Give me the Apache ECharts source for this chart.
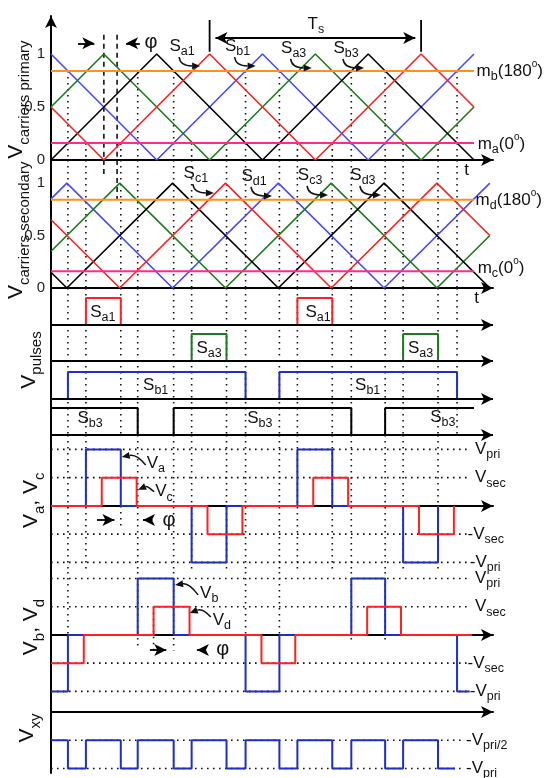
<!DOCTYPE html>
<html>
<head>
<meta charset="utf-8">
<script src="https://cdn.jsdelivr.net/npm/echarts@6/dist/echarts.min.js"></script>
<style>
html, body { margin: 0; padding: 0; background: #fff; }
#main { width: 549px; height: 778px; }
</style>
</head>
<body>
<div id="main"></div>
<script>
// ---- data (time in quarter carrier periods) ----
var priBlue  = [[0, 1], [2, 0], [4, 1], [6, 0], [8, 1]];
var priGreen = [[0, 0.5], [1, 1], [3, 0], [5, 1], [7, 0], [8, 0.5]];
var priBlack = [[0, 0], [2, 1], [4, 0], [6, 1], [8, 0]];
var priRed   = [[0, 0.5], [1, 0], [3, 1], [5, 0], [7, 1], [8, 0.5]];
var secBlue  = [[0, 0.85], [0.3, 1], [2.3, 0], [4.3, 1], [6.3, 0], [8.3, 1]];
var secGreen = [[0, 0.35], [1.3, 1], [3.3, 0], [5.3, 1], [7.3, 0], [8.3, 0.5]];
var secBlack = [[0, 0.15], [0.3, 0], [2.3, 1], [4.3, 0], [6.3, 1], [8.3, 0]];
var secRed   = [[0, 0.65], [1.3, 0], [3.3, 1], [5.3, 0], [7.3, 1], [8.3, 0.5]];
var mA = 0.16, mB = 0.84, mC = 0.16, mD = 0.84;
var refEnd = 8.0;
var phiLines = [1.0, 1.25];
var tsMarks = [3, 7];

var saTimes = [0.66, 1.32, 2.66, 3.32, 4.66, 5.32, 6.66, 7.32];
var sbTimes = [0.32, 1.64, 2.32, 3.68, 4.32, 5.68, 6.32, 7.68];

var sa1On = [[0.66, 1.32], [4.66, 5.32]];
var sa3On = [[2.66, 3.32], [6.66, 7.32]];
var sb1On = [[0.32, 3.68], [4.32, 7.68]];
var sb3Wave = [[0, 1], [1.64, 1], [1.64, 0], [2.32, 0], [2.32, 1], [5.68, 1], [5.68, 0], [6.32, 0], [6.32, 1], [8.0, 1]];

var vaWave = [[0, 0], [0.66, 0], [0.66, 2], [1.32, 2], [1.32, 0], [2.66, 0], [2.66, -2], [3.32, -2], [3.32, 0],
  [4.66, 0], [4.66, 2], [5.32, 2], [5.32, 0], [6.66, 0], [6.66, -2], [7.32, -2], [7.32, 0]];
var vcWave = [[0, 0], [0.96, 0], [0.96, 1], [1.62, 1], [1.62, 0], [2.96, 0], [2.96, -1], [3.62, -1], [3.62, 0],
  [4.96, 0], [4.96, 1], [5.62, 1], [5.62, 0], [6.96, 0], [6.96, -1], [7.62, -1], [7.62, 0]];
var vbWave = [[0, -2], [0.32, -2], [0.32, 0], [1.64, 0], [1.64, 2], [2.32, 2], [2.32, 0], [3.68, 0], [3.68, -2],
  [4.32, -2], [4.32, 0], [5.68, 0], [5.68, 2], [6.32, 2], [6.32, 0], [7.68, 0], [7.68, -2], [7.92, -2]];
var vdWave = [[0, -1], [0.62, -1], [0.62, 0], [1.94, 0], [1.94, 1], [2.62, 1], [2.62, 0], [3.98, 0], [3.98, -1],
  [4.62, -1], [4.62, 0], [5.98, 0], [5.98, 1], [6.62, 1], [6.62, 0], [7.96, 0]];
var vxyEdges = [0.32, 0.66, 1.32, 1.64, 2.32, 2.66, 3.32, 3.68, 4.32, 4.66, 5.32, 5.68, 6.32, 6.66, 7.32];
var vxyEnd = 7.64;
var levelsV = [2, 1, -1, -2];
var levelsXY = [-1, -2];

// ---- layout ----
var FONT = '"Liberation Sans", Arial, sans-serif';
var X_MAX = 8.36;
var gridBoxes = [[16, 144], [160, 128], [288, 147], [435, 137], [572, 140], [712, 61]];
var yRanges = [[0, 1.358], [0, 1.22], [0, 147], [-2.34, 2.51], [-2.73, 2.23], [-2.16, 0]];
var trackBase = [110, 74, 36, 0];
var pulseH = 27;

var RED = '#ff2020', GREEN = '#1d7a1d', BLUE = '#4848ff', DBLUE = '#1f2ec4', ORANGE = '#ff9019', PINK = '#ff2b8c';
var DOT = [1.6, 4.4];

var chart = echarts.init(document.getElementById('main'));

function vseg(list) {
  var d = [];
  list.forEach(function (s) { d.push([s[0], s[1]], [s[0], s[2]], [s[0], '-']); });
  return d;
}
function boxes(on, base, h) {
  var d = [];
  on.forEach(function (p) { d.push([p[0], base], [p[0], base + h], [p[1], base + h], [p[1], base], [p[1], '-']); });
  return d;
}
function hseg(levels, t0, t1) {
  var d = [];
  levels.forEach(function (v) { d.push([t0, v], [t1, v], [t1, '-']); });
  return d;
}
function stepWave(edges, hi, lo, end) {
  var d = [[0, hi]], cur = hi;
  edges.forEach(function (t) { d.push([t, cur]); cur = (cur === hi ? lo : hi); d.push([t, cur]); });
  d.push([end, cur]);
  return d;
}
function line(g, data, color, width, type, z) {
  return {
    type: 'line', xAxisIndex: g, yAxisIndex: g, data: data, symbol: 'none', silent: true,
    animation: false, connectNulls: false, z: z || 3,
    lineStyle: { color: color, width: width || 1.6, type: type || 'solid' }
  };
}
function arrowSeries(g, segs, sym) {
  return {
    type: 'line', xAxisIndex: g, yAxisIndex: g, data: [], symbol: 'none', silent: true, animation: false, z: 5,
    markLine: {
      silent: true, animation: false, symbol: sym, symbolSize: [9, 12],
      label: { show: false }, emphasis: { disabled: true },
      lineStyle: { color: '#000', width: 1.8, type: 'solid' },
      data: segs.map(function (s) { return [{ coord: [s[0], s[1]] }, { coord: [s[2], s[3]] }]; })
    }
  };
}

var grids = [], xAxes = [], yAxes = [];
gridBoxes.forEach(function (b, i) {
  grids.push({ left: 51, width: 442, top: b[0], height: b[1] });
  var showX = (i === 0 || i === 1 || i === 3 || i === 4 || i === 5);
  xAxes.push({
    gridIndex: i, type: 'value', min: 0, max: X_MAX, position: i === 5 ? 'top' : 'bottom',
    axisLine: { show: showX, onZero: true, symbol: ['none', 'arrow'], symbolSize: [9, 12], lineStyle: { color: '#000', width: 2 } },
    axisTick: { show: false }, axisLabel: { show: false }, splitLine: { show: false }
  });
  var lab = (i === 0 || i === 1);
  yAxes.push({
    gridIndex: i, type: 'value', min: yRanges[i][0], max: yRanges[i][1], interval: lab ? 0.5 : null,
    axisLine: { show: true, onZero: false, symbol: i === 0 ? ['none', 'arrow'] : 'none', symbolSize: [9, 12], lineStyle: { color: '#000', width: 2 } },
    axisTick: { show: false }, splitLine: { show: false },
    axisLabel: {
      show: lab, margin: 6, color: '#222', fontSize: 15, fontFamily: FONT,
      formatter: function (v) { return v <= 1 ? String(v) : ''; }
    }
  });
});

var allTimes = saTimes.concat(sbTimes);
var series = [];

// primary carriers
series.push(line(0, vseg(saTimes.map(function (t) { return [t, mA, 0]; }).concat(sbTimes.map(function (t) { return [t, mB, 0]; }))), '#111', 1.6, DOT, 1));
series.push(line(0, vseg(phiLines.map(function (t) { return [t, 1.18, 0]; })), '#111', 1.6, [5, 4], 1));
series.push(line(0, vseg(tsMarks.map(function (t) { return [t, 1.02, 1.32]; })), '#000', 1.8, 'solid', 4));
series.push(line(0, priBlue, BLUE), line(0, priGreen, GREEN), line(0, priBlack, '#000'), line(0, priRed, RED));
series.push(line(0, [[0, mB], [refEnd, mB]], ORANGE, 2, 'solid', 4), line(0, [[0, mA], [refEnd, mA]], PINK, 2, 'solid', 4));
series.push(arrowSeries(0, [[3.11, 1.15, 6.89, 1.15]], ['arrow', 'arrow']));
series.push(arrowSeries(0, [[0.51, 1.1, 0.82, 1.1], [1.68, 1.1, 1.42, 1.1]], ['none', 'arrow']));

// secondary carriers
series.push(line(1, vseg(allTimes.map(function (t) { return [t, 1.22, 0]; })), '#111', 1.6, DOT, 1));
series.push(line(1, vseg([[phiLines[0], 1.22, 1.06], [phiLines[1], 1.22, 0.84]]), '#111', 1.6, [5, 4], 1));
series.push(line(1, secBlue, BLUE), line(1, secGreen, GREEN), line(1, secBlack, '#000'), line(1, secRed, RED));
series.push(line(1, [[0, mD], [refEnd, mD]], ORANGE, 2, 'solid', 4), line(1, [[0, mC], [refEnd, mC]], PINK, 2, 'solid', 4));

// pulses
series.push(line(2, vseg(allTimes.map(function (t) { return [t, 147, 0]; })), '#111', 1.6, DOT, 1));
series.push(arrowSeries(2, trackBase.map(function (b) { return [0, b, X_MAX, b]; }), ['none', 'arrow']));
series.push(line(2, boxes(sa1On, trackBase[0], pulseH), RED, 2));
series.push(line(2, boxes(sa3On, trackBase[1], pulseH), GREEN, 2));
series.push(line(2, boxes(sb1On, trackBase[2], pulseH), DBLUE, 2));
series.push(line(2, sb3Wave.map(function (p) { return [p[0], trackBase[3] + p[1] * pulseH]; }), '#000', 2));

// Va, Vc
var g4Times = allTimes.filter(function (t) { return t !== 1.32 && t !== 7.68; });
series.push(line(3, vseg(g4Times.map(function (t) { return [t, 2.51, -2.34]; }).concat([[1.32, 0, -0.85]])), '#111', 1.6, DOT, 1));
series.push(line(3, hseg(levelsV, 0, 7.88), '#111', 1.6, DOT, 1));
series.push(line(3, vaWave, DBLUE, 2, 'solid', 3), line(3, vcWave, RED, 2, 'solid', 4));
series.push(arrowSeries(3, [[0.87, -0.5, 1.2, -0.5], [1.92, -0.5, 1.74, -0.5]], ['none', 'arrow']));

// Vb, Vd
var g5Guides = [[0.32, 0], [1.64, -0.5], [2.32, -0.55], [3.68, 0], [4.32, 0], [5.68, -0.2], [6.32, -0.2]];
series.push(line(4, vseg(g5Guides.map(function (p) { return [p[0], 2.23, p[1]]; }).concat([[1.94, 1.0, -0.7]])), '#111', 1.6, DOT, 1));
series.push(line(4, hseg(levelsV, 0, 7.88), '#111', 1.6, DOT, 1));
series.push(line(4, vbWave, DBLUE, 2, 'solid', 3), line(4, vdWave, RED, 2, 'solid', 4));
series.push(arrowSeries(4, [[1.87, -0.53, 2.18, -0.53], [2.87, -0.53, 2.76, -0.53]], ['none', 'arrow']));

// Vxy
series.push(line(5, hseg(levelsXY, 0, 7.75), '#111', 1.6, DOT, 1));
series.push(line(5, stepWave(vxyEdges, -1, -2, vxyEnd), DBLUE, 2, 'solid', 3));

chart.setOption({
  animation: false,
  backgroundColor: '#fff',
  grid: grids, xAxis: xAxes, yAxis: yAxes, series: series
});

// ---- annotations (anchored in data coordinates) ----
var RS = {
  b: { fontSize: 17, fontFamily: FONT, fill: '#111', lineHeight: 24 },
  s: { fontSize: 12.5, fontFamily: FONT, fill: '#111', verticalAlign: 'bottom' },
  p: { fontSize: 10, fontFamily: FONT, fill: '#111', verticalAlign: 'top' },
  f: { fontSize: 20, fontFamily: FONT, fill: '#111', lineHeight: 24 }
};
var RT = {
  b: { fontSize: 21, fontFamily: FONT, fill: '#111', lineHeight: 32 },
  s: { fontSize: 15, fontFamily: FONT, fill: '#111', verticalAlign: 'bottom' }
};
function P(g, t, v) { return chart.convertToPixel({ gridIndex: g }, [t, v]); }
function txt(p, text, align, rich, rot) {
  return {
    type: 'text', x: p[0], y: p[1], rotation: rot || 0, silent: true, z: 100,
    style: { text: text, rich: rich || RS, textAlign: align || 'center', textVerticalAlign: 'middle', fill: '#111' }
  };
}
function curve(p0, c, p1) {
  var ang = Math.atan2(p1[1] - c[1], p1[0] - c[0]);
  var L = 8, W = 3.5;
  var bx = p1[0] - L * Math.cos(ang), by = p1[1] - L * Math.sin(ang);
  var nx = -Math.sin(ang) * W, ny = Math.cos(ang) * W;
  return [
    { type: 'bezierCurve', silent: true, z: 100, shape: { x1: p0[0], y1: p0[1], cpx1: c[0], cpy1: c[1], x2: bx, y2: by }, style: { stroke: '#111', lineWidth: 1.5, fill: null } },
    { type: 'polygon', silent: true, z: 100, shape: { points: [[p1[0], p1[1]], [bx + nx, by + ny], [bx - nx, by - ny]] }, style: { fill: '#111' } }
  ];
}

var labels = [
  [0, 2.48, 1.075, '{b|S}{s|a1}'], [0, 3.53, 1.075, '{b|S}{s|b1}'],
  [0, 4.59, 1.057, '{b|S}{s|a3}'], [0, 5.58, 1.057, '{b|S}{s|b3}'],
  [1, 2.74, 1.096, '{b|S}{s|c1}'], [1, 3.84, 1.068, '{b|S}{s|d1}'],
  [1, 4.90, 1.078, '{b|S}{s|c3}'], [1, 5.90, 1.078, '{b|S}{s|d3}']
];
var pulseLabels = [
  [0.98, 123, '{b|S}{s|a1}'], [5.05, 123, '{b|S}{s|a1}'],
  [2.99, 87, '{b|S}{s|a3}'], [6.99, 87, '{b|S}{s|a3}'],
  [1.98, 50, '{b|S}{s|b1}'], [5.99, 50, '{b|S}{s|b1}'],
  [0.74, 17, '{b|S}{s|b3}'], [3.95, 17, '{b|S}{s|b3}'], [7.41, 18, '{b|S}{s|b3}']
];
var levelNames = ['{b|V}{s|pri}', '{b|V}{s|sec}', '{b|-V}{s|sec}', '{b|-V}{s|pri}'];
var levelX = [8.02, 8.02, 7.88, 7.92];

var els = [];
labels.forEach(function (a) {
  var p = P(a[0], a[1], a[2]);
  els.push(txt(p, a[3]));
  els = els.concat(curve([p[0] - 3, p[1] + 11], [p[0] - 2, p[1] + 20], [p[0] + 18, p[1] + 20]));
});
pulseLabels.forEach(function (a) { els.push(txt(P(2, a[0], a[1]), a[2])); });

els.push(txt(P(0, 1.89, 1.11), '{f|φ}'));
els.push(txt(P(0, 5.01, 1.28), '{b|T}{s|s}'));
els.push(txt(P(0, 7.86, -0.1), '{b|t}'));
els.push(txt(P(1, 8.05, -0.1), '{b|t}'));
els.push(txt(P(0, 8.05, mB), '{b|m}{s|b}{b|(180}{p|o}{b|)}', 'left'));
els.push(txt(P(0, 8.07, mA - 0.01), '{b|m}{s|a}{b|(0}{p|o}{b|)}', 'left'));
els.push(txt(P(1, 8.03, mD), '{b|m}{s|d}{b|(180}{p|o}{b|)}', 'left'));
els.push(txt(P(1, 8.07, mC + 0.03), '{b|m}{s|c}{b|(0}{p|o}{b|)}', 'left'));

[3, 4].forEach(function (g) {
  levelsV.forEach(function (v, k) { els.push(txt(P(g, levelX[k], v), levelNames[k], 'left')); });
});
els.push(txt(P(5, 7.85, -1), '{b|-V}{s|pri/2}', 'left'));
els.push(txt(P(5, 7.85, -2), '{b|-V}{s|pri}', 'left'));

var pa = P(3, 1.81, 1.52), pc = P(3, 1.97, 0.5);
els.push(txt(pa, '{b|V}{s|a}', 'left'), txt(pc, '{b|V}{s|c}', 'left'));
els = els.concat(curve([pa[0] - 1, pa[1] + 2], [pa[0] - 10, pa[1] - 9], [pa[0] - 25, pa[1] - 6]));
els = els.concat(curve([pc[0] - 1, pc[1]], [pc[0] - 8, pc[1] - 6], [pc[0] - 17, pc[1] - 2]));
els.push(txt(P(3, 2.23, -0.5), '{f|φ}'));

var pb = P(4, 2.82, 1.49), pd = P(4, 3.06, 0.53);
els.push(txt(pb, '{b|V}{s|b}', 'left'), txt(pd, '{b|V}{s|d}', 'left'));
els = els.concat(curve([pb[0] - 2, pb[1] + 2], [pb[0] - 11, pb[1] - 10], [pb[0] - 25, pb[1] - 8]));
els = els.concat(curve([pd[0] - 2, pd[1] - 3], [pd[0] - 10, pd[1] - 12], [pd[0] - 23, pd[1] - 7]));
els.push(txt(P(4, 3.25, -0.53), '{f|φ}'));

var R90 = Math.PI / 2;
els.push(txt(P(0, -0.66, 0.57), '{b|V}{s|carriers primary}', 'center', RT, R90));
els.push(txt(P(1, -0.66, 0.55), '{b|V}{s|carriers secondary}', 'center', RT, R90));
els.push(txt(P(2, -0.42, 75), '{b|V}{s|pulses}', 'center', RT, R90));
els.push(txt(P(3, -0.38, 0.2), '{b|V}{s|a}{b|, V}{s|c}', 'center', RT, R90));
els.push(txt(P(4, -0.38, 0.28), '{b|V}{s|b}{b|, V}{s|d}', 'center', RT, R90));
els.push(txt(P(5, -0.45, -0.57), '{b|V}{s|xy}', 'center', RT, R90));

chart.setOption({ graphic: { elements: els } });
</script>
</body>
</html>
